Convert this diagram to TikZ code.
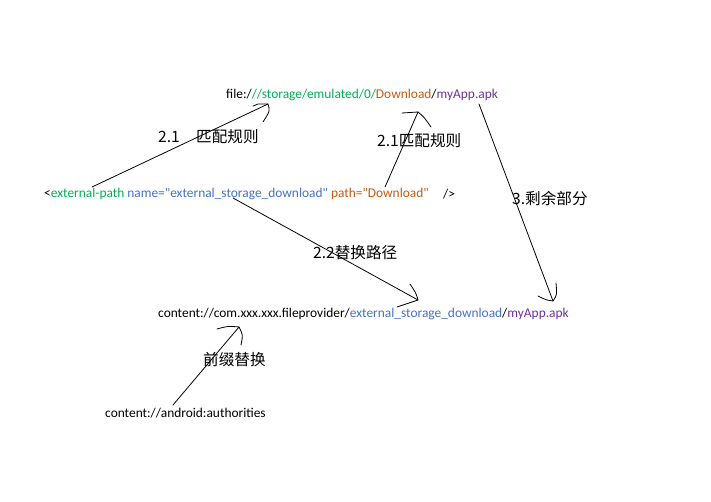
\documentclass[tikz,border=0pt]{standalone}
\usepackage{fontspec}
\setmainfont{Carlito}
\newfontfamily\codefont{Carlito}
\newfontfamily\cjk{Noto Sans CJK SC}
\definecolor{cgreen}{HTML}{00B050}
\definecolor{corange}{HTML}{C55A11}
\definecolor{cblue}{HTML}{4472C4}
\definecolor{cpurple}{HTML}{7030A0}
\tikzset{
  codetext/.style={anchor=west, inner sep=0pt, font=\codefont\fontsize{13.4}{15}\selectfont},
  lbl/.style={anchor=west, inner sep=0pt, font=\cjk\fontsize{15.6}{17}\selectfont},
  hand/.style={draw=black, line width=0.8pt, line cap=round, line join=round},
}
\begin{document}
\begin{tikzpicture}[x=1pt,y=1pt]
\useasboundingbox[fill=white] (0,0) rectangle (711,501);
% texts (y = 501 - px)
\node[codetext] (file) at (226,406) {file:/\textcolor{cgreen}{//storage/emulated/0/}\textcolor{corange}{Download}/\textcolor{cpurple}{myApp.apk}};
\node[codetext] (ext) at (44,307) {<\textcolor{cgreen}{external-path} \textcolor{cblue}{name="external\_storage\_download"} \textcolor{corange}{path="Download"}};
\node[codetext] (close) at (443,307) {/>};
\node[codetext] (cont) at (158,187) {content://com.xxx.xxx.fileprovider/\textcolor{cblue}{external\_storage\_download}/\textcolor{cpurple}{myApp.apk}};
\node[codetext] (auth) at (105,88) {content://android:authorities};
% labels
\node[lbl] (l21a) at (158,364) {2.1};
\node[lbl] (l21b) at (196,364) {匹配规则};
\node[lbl] (l21c) at (377,360) {2.1匹配规则};
\node[lbl] (l3) at (512,302) {3.剩余部分};
\node[lbl] (l22) at (313,248) {2.2替换路径};
\node[lbl] (lpre) at (203,141) {前缀替换};
% arrow 1
\coordinate (a1t) at (92,314);
\coordinate (a1h) at (268,397);
\coordinate (a1b) at (253,395);
\coordinate (a1c) at (263,379);
\path[hand] (a1t) -- (a1h);
\path[hand] (a1b) -- (258,397) -- (a1h) .. controls (270,390) .. (a1c);
% arrow 2
\coordinate (a2t) at (385,314);
\coordinate (a2h) at (418,389);
\coordinate (a2b) at (402,388);
\coordinate (a2c) at (431,374);
\path[hand] (a2t) -- (a2h);
\path[hand] (a2b) -- (a2h) .. controls (424,384) .. (a2c);
% arrow 3
\coordinate (a3t) at (479,397);
\coordinate (a3h) at (553,200);
\coordinate (a3b) at (538,205);
\coordinate (a3c) at (556,218);
\path[hand] (a3t) -- (a3h);
\path[hand] (a3b) .. controls (546,201) .. (a3h) .. controls (557,206) .. (a3c);
% arrow 2.2
\coordinate (a4t) at (233,303);
\coordinate (a4h) at (418,201);
\coordinate (a4b) at (410,217);
\coordinate (a4c) at (397,194);
\path[hand] (a4t) -- (a4h);
\path[hand] (a4b) .. controls (416,208) .. (a4h) -- (a4c);
% arrow prefix
\coordinate (a5t) at (173,96);
\coordinate (a5h) at (239,174);
\coordinate (a5b) at (217,172);
\coordinate (a5c) at (241,156);
\path[hand] (a5t) -- (a5h);
\path[hand] (a5b) .. controls (228,175) .. (a5h) .. controls (243,166) .. (a5c);
\end{tikzpicture}
\end{document}
